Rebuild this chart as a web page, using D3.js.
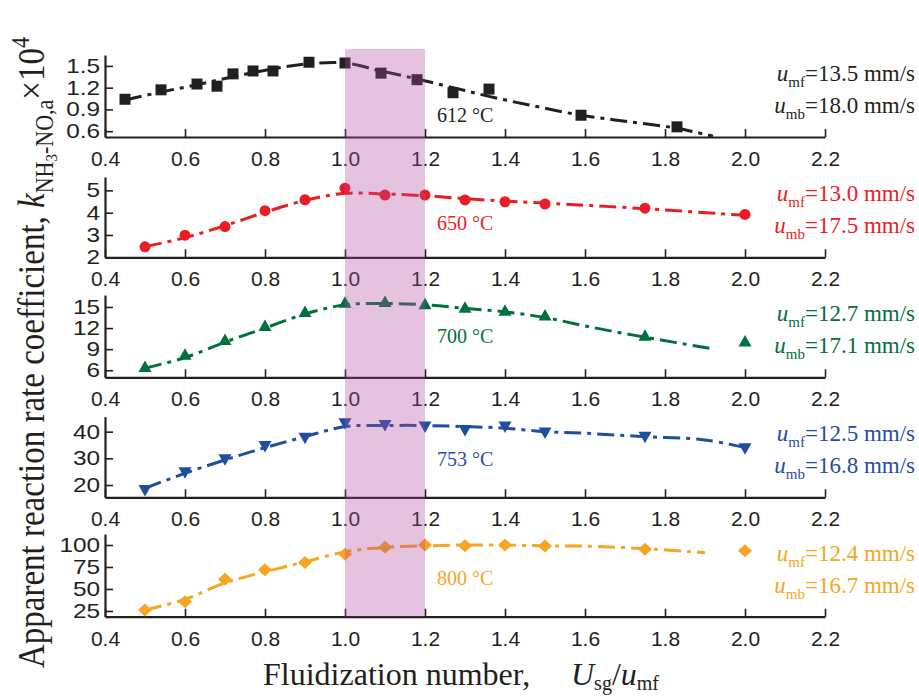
<!DOCTYPE html>
<html><head><meta charset="utf-8">
<script src="https://cdn.jsdelivr.net/npm/d3@7"></script>
<style>body{margin:0;background:#fff}svg{display:block}</style>
</head><body>
<svg id="c" width="919" height="697"></svg>
<script>
// ---------- data ----------
const xMajor = [0.4,0.6,0.8,1.0,1.2,1.4,1.6,1.8,2.0,2.2];
const xMinor = [0.5,0.7,0.9,1.1,1.3,1.5,1.7,1.9,2.1];
const temps = ["612 °C","650 °C","700 °C","753 °C","800 °C"];
const umfVals = ["13.5","13.0","12.7","12.5","12.4"];
const umbVals = ["18.0","17.5","17.1","16.8","16.7"];
const shadeRange = [1.0, 1.2];

const x612 = [0.45,0.54,0.63,0.68,0.72,0.77,0.82,0.91,1.0,1.09,1.18,1.27,1.36,1.59,1.83];
const k612 = [1.04,1.17,1.25,1.22,1.39,1.43,1.43,1.55,1.54,1.40,1.31,1.13,1.18,0.82,0.66];
const xStd = [0.5,0.6,0.7,0.8,0.9,1.0,1.1,1.2,1.3,1.4,1.5,1.75,2.0];
const k650 = [2.47,2.99,3.38,4.09,4.58,5.10,4.79,4.79,4.57,4.49,4.39,4.20,3.92];
const k700 = [6.46,8.2,10.3,12.3,14.3,15.6,15.7,15.4,14.9,14.45,13.8,10.9,10.1];
const k753 = [18.1,24.8,29.7,34.6,37.7,43.1,42.5,41.9,40.6,41.9,39.7,38.1,33.8];
const k800 = [26.1,35.6,61,72,80,89.5,97.3,100,99.2,100,99,95.3,93.5];

const fitX612 = [0.45,0.54,0.63,0.72,0.82,0.91,1.0,1.09,1.18,1.27,1.36,1.47,1.59,1.71,1.83,1.92];
const fitK612 = [1.03,1.14,1.24,1.35,1.46,1.53,1.54,1.43,1.32,1.20,1.08,0.95,0.82,0.73,0.64,0.53];
const fitX650 = [0.5,0.6,0.7,0.8,0.9,1.0,1.1,1.2,1.3,1.4,1.5,1.75,2.0];
const fitK650 = [2.48,2.88,3.42,4.02,4.55,4.87,4.84,4.76,4.63,4.52,4.43,4.18,3.88];
const fitX700 = [0.5,0.6,0.7,0.8,0.9,1.0,1.1,1.2,1.3,1.4,1.5,1.6,1.75,1.92];
const fitK700 = [6.3,7.8,10.0,12.0,14.0,15.3,15.5,15.3,14.8,14.3,13.5,12.3,10.7,9.05];
const fitX753 = [0.5,0.6,0.7,0.8,0.9,1.0,1.1,1.2,1.3,1.4,1.5,1.6,1.75,1.9,2.0];
const fitK753 = [18.8,24.4,29.4,34.0,38.1,41.9,42.3,42.3,41.9,41.3,40.0,39.4,38.1,36.9,34.0];
const fitX800 = [0.5,0.6,0.7,0.8,0.9,1.0,1.1,1.2,1.3,1.4,1.5,1.6,1.75,1.9];
const fitK800 = [26.1,38.3,57,69.5,80.8,92.2,97.3,99,100,100,99,98.8,95.8,91.3];

const yMajor612 = [0.6,0.9,1.2,1.5], yMinor612 = [0.75,1.05,1.35,1.65];
const yMajor650 = [2,3,4,5],         yMinor650 = [2.5,3.5,4.5,5.5];
const yMajor700 = [6,9,12,15],       yMinor700 = [7.5,10.5,13.5,16.5];
const yMajor753 = [20,30,40],        yMinor753 = [25,35,45];
const yMajor800 = [25,50,75,100],    yMinor800 = [37.5,62.5,87.5,112.5];

// ---------- layout ----------
const panels = [
  {xs:x612, ks:k612, fx:fitX612, fk:fitK612, dom:[0.52,1.65], axisY:137,   top:55,  maj:yMajor612, min:yMinor612, fmt:d3.format(".1f"), color:"#231f20", marker:"square",   tOff:-15},
  {xs:xStd, ks:k650, fx:fitX650, fk:fitK650, dom:[2,5.6],     axisY:257.3, top:177, maj:yMajor650, min:yMinor650, fmt:d3.format("d"),   color:"#ec1c24", marker:"circle",   tOff:-27},
  {xs:xStd, ks:k700, fx:fitX700, fk:fitK700, dom:[5,16.7],    axisY:377.3, top:295, maj:yMajor700, min:yMinor700, fmt:d3.format("d"),   color:"#00703c", marker:"triUp",    tOff:-34},
  {xs:xStd, ks:k753, fx:fitX753, fk:fitK753, dom:[15.4,45.6], axisY:497.3, top:416.7,maj:yMajor753, min:yMinor753, fmt:d3.format("d"),  color:"#1f4ea1", marker:"triDown",  tOff:-31},
  {xs:xStd, ks:k800, fx:fitX800, fk:fitK800, dom:[18.5,112.5],axisY:616.7, top:534, maj:yMajor800, min:yMinor800, fmt:d3.format("d"),   color:"#f6a623", marker:"diamond",  tOff:-32}
];
panels.forEach((p,i)=>{p.temp=temps[i]; p.umf=umfVals[i]; p.umb=umbVals[i];});

const svg = d3.select("#c");
const x = d3.scaleLinear().domain([0.4,2.2]).range([105,825]);
const axisColor = "#231f20";
const sans = "'Liberation Sans', Arial, sans-serif";
const serif = "'Liberation Serif', 'Times New Roman', serif";

function markerPath(type){
  switch(type){
    case "square": return "M-5.5,-5.5H5.5V5.5H-5.5Z";
    case "circle": return d3.symbol(d3.symbolCircle, Math.PI*5.5*5.5)();
    case "triUp": return "M0,-6.5L6.5,5L-6.5,5Z";
    case "triDown": return "M0,6.5L6.5,-5L-6.5,-5Z";
    case "diamond": return "M0,-6.5L7,0L0,6.5L-7,0Z";
  }
}

panels.forEach(p=>{
  const y = d3.scaleLinear().domain(p.dom).range([p.axisY, p.top]);
  const g = svg.append("g");

  // x axis
  const xa = g.append("g").attr("transform",`translate(0,${p.axisY})`);
  xa.call(d3.axisBottom(x).tickValues(xMinor).tickSize(-5).tickSizeOuter(0).tickFormat(""));
  xa.call(d3.axisBottom(x).tickValues(xMajor).tickSize(-8).tickSizeOuter(0).tickPadding(14).tickFormat(d3.format(".1f")));
  xa.selectAll(".tick text").attr("font-size",21);
  // y axis
  const ya = g.append("g").attr("transform","translate(105,0)");
  ya.call(d3.axisLeft(y).tickValues(p.min).tickSize(-5).tickSizeOuter(0).tickFormat(""));
  ya.call(d3.axisLeft(y).tickValues(p.maj).tickSize(-8).tickSizeOuter(0).tickPadding(5).tickFormat(p.fmt));
  ya.selectAll(".tick text").attr("font-size",20).attr("x",-4).attr("transform","scale(1.22,1)");
  g.selectAll(".domain").attr("stroke",axisColor).attr("stroke-width",2.2);
  g.selectAll(".tick line").attr("stroke",axisColor).attr("stroke-width",1.6);
  g.selectAll(".tick text").attr("fill",axisColor).attr("font-family",sans);

  // fitted dash-dot curve
  const line = d3.line().x(d=>x(d[0])).y(d=>y(d[1])).curve(d3.curveCatmullRom.alpha(0.5));
  g.append("path").datum(p.fx.map((v,i)=>[v,p.fk[i]]))
    .attr("d",line).attr("fill","none").attr("stroke",p.color)
    .attr("stroke-width",3).attr("stroke-dasharray","17,6,4,6");

  // markers
  g.selectAll(".pt").data(p.xs.map((v,i)=>[v,p.ks[i]])).join("path")
    .attr("d",markerPath(p.marker))
    .attr("transform",d=>`translate(${x(d[0])},${y(d[1])})`)
    .attr("fill",p.color);

  // temperature label
  g.append("text").attr("x",437).attr("y",p.axisY+p.tOff)
    .attr("font-family",serif).attr("font-size",20).attr("fill",p.color).text(p.temp);

  // velocity annotations
  [["mf",p.umf,-56],["mb",p.umb,-24]].forEach(([sub,val,off])=>{
    const t = g.append("text").attr("x",915).attr("y",p.axisY+off).attr("text-anchor","end")
      .attr("font-family",serif).attr("font-size",23).attr("fill",p.color);
    t.append("tspan").attr("font-style","italic").text("u");
    t.append("tspan").attr("font-size",15).attr("dy",6).text(sub);
    t.append("tspan").attr("dy",-6).text("=" + val + " mm/s");
  });
});

// shaded band overlay
svg.append("rect")
  .attr("x",x(shadeRange[0])).attr("width",x(shadeRange[1])-x(shadeRange[0]))
  .attr("y",49).attr("height",panels[4].axisY-49)
  .attr("fill","rgb(176,74,154)").attr("fill-opacity",0.33);

// x title
const xt = svg.append("text").attr("x",263).attr("y",685)
  .attr("font-family",serif).attr("font-size",32).attr("fill",axisColor);
xt.append("tspan").text("Fluidization number,");
xt.append("tspan").attr("x",571).attr("font-style","italic").text("U");
xt.append("tspan").attr("font-size",20).attr("dy",5).text("sg");
xt.append("tspan").attr("dy",-5).text("/");
xt.append("tspan").attr("font-style","italic").text("u");
xt.append("tspan").attr("font-size",20).attr("dy",5).text("mf");

// y title
const yt = svg.append("text").attr("transform","translate(44,668) rotate(-90) scale(1,1.18)")
  .attr("font-family",serif).attr("font-size",33).attr("fill",axisColor);
yt.append("tspan").text("Apparent reaction rate coefficient, ");
yt.append("tspan").attr("font-style","italic").text("k");
yt.append("tspan").attr("font-size",22).attr("dy",8).text("NH");
yt.append("tspan").attr("font-size",15).attr("dy",3).text("3");
yt.append("tspan").attr("font-size",22).attr("dy",-3).text("-NO,a");
yt.append("tspan").attr("dy",-8).text("×10");
yt.append("tspan").attr("font-size",22).attr("dy",-13).text("4");
</script>
</body></html>
